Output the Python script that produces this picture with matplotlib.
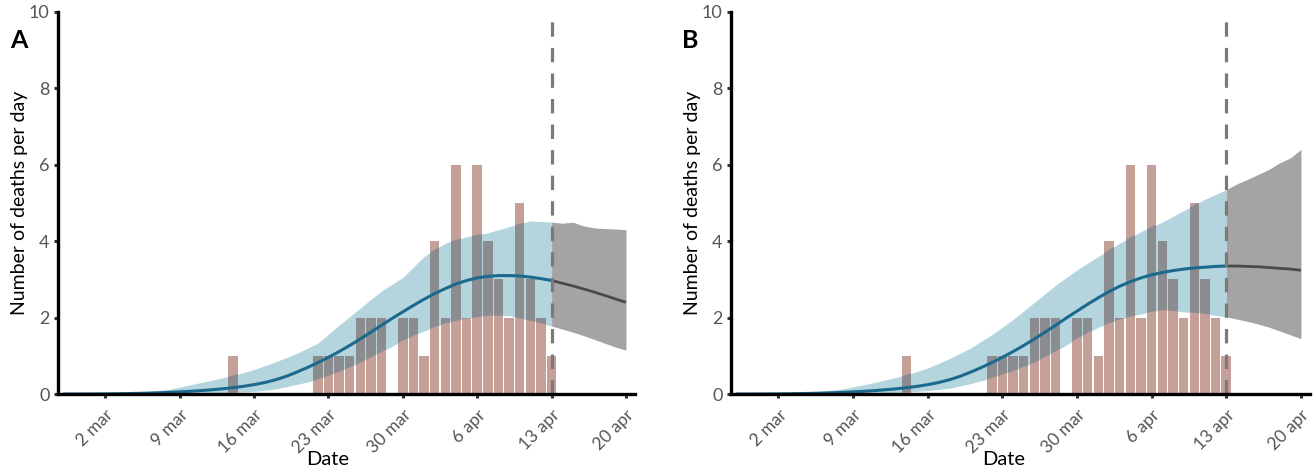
import numpy as np
import pandas as pd
import matplotlib
matplotlib.use("Agg")
import matplotlib.pyplot as plt

plt.rcParams['font.family'] = ['Lato', 'DejaVu Sans']

# ---------------- data ----------------
origin = pd.Timestamp("2020-03-02")

bar_dates = ["2020-03-14", "2020-03-22", "2020-03-23", "2020-03-24", "2020-03-25",
             "2020-03-26", "2020-03-27", "2020-03-28", "2020-03-30", "2020-03-31",
             "2020-04-01", "2020-04-02", "2020-04-03", "2020-04-04", "2020-04-05",
             "2020-04-06", "2020-04-07", "2020-04-08", "2020-04-09", "2020-04-10",
             "2020-04-11", "2020-04-12", "2020-04-13"]
bar_counts = [1, 1, 1, 1, 1, 2, 2, 2, 2, 2, 1, 4, 2, 6, 2, 6, 4, 3, 2, 5, 3, 2, 1]

# fitted mean curve, daily (days since 2 March)
line_days = list(range(-4, 43))
a_mean = [0, 0, 0.001, 0.002, 0.004, 0.007, 0.011, 0.016, 0.023, 0.032, 0.043, 0.056,
          0.071, 0.089, 0.11, 0.135, 0.165, 0.2, 0.245, 0.3, 0.37, 0.46, 0.57, 0.69,
          0.82, 0.96, 1.11, 1.27, 1.44, 1.62, 1.8, 1.98, 2.15, 2.32, 2.48, 2.63, 2.76,
          2.88, 2.97, 3.04, 3.08, 3.1, 3.1, 3.09, 3.06, 3.02, 2.97]
b_mean = [0, 0, 0.001, 0.002, 0.004, 0.007, 0.011, 0.016, 0.023, 0.032, 0.043, 0.056,
          0.071, 0.089, 0.11, 0.135, 0.165, 0.2, 0.245, 0.3, 0.37, 0.46, 0.57, 0.69,
          0.82, 0.96, 1.11, 1.27, 1.44, 1.62, 1.8, 1.99, 2.17, 2.35, 2.52, 2.68, 2.82,
          2.94, 3.04, 3.12, 3.18, 3.23, 3.27, 3.3, 3.32, 3.34, 3.35]

# credible band (days since 2 March)
band_days = [-4, 0, 3, 6, 9, 12, 14, 16, 18, 20, 22, 24, 26, 28, 30, 32, 34, 36, 38, 40, 42]
a_upper = [0, 0.01, 0.04, 0.12, 0.30, 0.48, 0.64, 0.84, 1.06, 1.33, 1.80, 2.25, 2.70,
           3.05, 3.60, 3.95, 4.12, 4.22, 4.38, 4.53, 4.50]
a_lower = [0, 0, 0, 0, 0.01, 0.04, 0.07, 0.13, 0.25, 0.38, 0.58, 0.82, 1.10,
           1.40, 1.65, 1.85, 1.98, 2.05, 2.05, 1.92, 1.78]
b_upper = [0, 0.01, 0.05, 0.13, 0.30, 0.50, 0.68, 0.92, 1.20, 1.55, 1.95, 2.40, 2.85,
           3.25, 3.60, 3.95, 4.25, 4.50, 4.80, 5.10, 5.35]
b_lower = [0, 0, 0, 0, 0.01, 0.05, 0.09, 0.15, 0.27, 0.42, 0.60, 0.82, 1.12,
           1.45, 1.75, 1.95, 2.10, 2.20, 2.15, 2.10, 2.02]

# forecast period
fc_days = [42, 43, 44, 45, 46, 47, 48, 49]
a_fc_mean = [2.97, 2.90, 2.83, 2.75, 2.67, 2.58, 2.49, 2.40]
a_fc_upper = [4.50, 4.47, 4.50, 4.40, 4.35, 4.33, 4.32, 4.30]
a_fc_lower = [1.78, 1.70, 1.62, 1.53, 1.43, 1.33, 1.23, 1.15]
b_fc_mean = [3.35, 3.35, 3.34, 3.33, 3.31, 3.29, 3.27, 3.24]
b_fc_upper = [5.35, 5.50, 5.62, 5.75, 5.88, 6.05, 6.18, 6.40]
b_fc_lower = [2.02, 1.96, 1.90, 1.83, 1.75, 1.65, 1.55, 1.45]

tick_days = [0, 7, 14, 21, 28, 35, 42, 49]
tick_labels = ["2 mar", "9 mar", "16 mar", "23 mar", "30 mar", "6 apr", "13 apr", "20 apr"]
cut_day = 42
panel_labels = ["A", "B"]

# ---------------- style ----------------
PINK = "#c4a099"
GREY_OVER = "#8a8c90"
BLUE_BAND = "#b4d4de"
BLUE_LINE = "#1b6a8e"
FC_BAND = "#a4a4a4"
FC_LINE = "#4a4a4a"

bar_x = [(pd.Timestamp(d) - origin).days for d in bar_dates]

fig = plt.figure(figsize=(13.15, 4.69), dpi=100)
axA = fig.add_axes([58 / 1315, 75 / 469, 577 / 1315, 382 / 469])
axB = fig.add_axes([731 / 1315, 75 / 469, 579 / 1315, 382 / 469])

panels = [
    (axA, a_mean, a_upper, a_lower, a_fc_mean, a_fc_upper, a_fc_lower, 0.468),
    (axB, b_mean, b_upper, b_lower, b_fc_mean, b_fc_upper, b_fc_lower, 0.47),
]

for (ax, m, up, lo, fm, fu, fl, lx), lab in zip(panels, panel_labels):
    band = ax.fill_between(band_days, lo, up, color=BLUE_BAND, lw=0, zorder=1)
    ax.bar(bar_x, bar_counts, width=0.9, color=PINK, edgecolor="none", zorder=2)
    over = ax.bar(bar_x, bar_counts, width=0.9, color=GREY_OVER, edgecolor="none", zorder=3)
    clip = band.get_paths()[0]
    for p in over:
        p.set_clip_path(clip, ax.transData)
    ax.fill_between(fc_days, fl, fu, color=FC_BAND, lw=0, zorder=3)
    ax.plot(line_days, m, color=BLUE_LINE, lw=2.2, zorder=4, solid_capstyle="butt")
    ax.plot(fc_days, fm, color=FC_LINE, lw=2.0, zorder=4, solid_capstyle="butt")
    ax.plot([cut_day, cut_day], [0, 10], color="#7a7a7a", lw=2.3,
            dashes=(4.5, 3.5), zorder=5)

    ax.set_xlim(-4.45, 49.85)
    ax.set_ylim(0, 10)
    ax.set_xticks(tick_days)
    ax.set_xticklabels(tick_labels, rotation=45, ha="right", va="top",
                       rotation_mode="anchor", color="#555555", fontsize=12.5)
    ax.set_yticks([0, 2, 4, 6, 8, 10])
    ax.set_yticklabels(["0", "2", "4", "6", "8", "10"], color="#555555", fontsize=13)
    for s in ["top", "right"]:
        ax.spines[s].set_visible(False)
    for s in ["left", "bottom"]:
        ax.spines[s].set_linewidth(2.4)
        ax.spines[s].set_color("black")
        ax.spines[s].set_zorder(6)
    ax.tick_params(axis="both", direction="out", length=3, width=2.2, color="#333333")
    ax.tick_params(axis="x", pad=6)
    ax.tick_params(axis="y", pad=3)
    ax.set_xlabel("Date", fontsize=14.5, va="top")
    ax.xaxis.set_label_coords(lx, -0.148)
    ax.set_ylabel("Number of deaths per day", fontsize=14, labelpad=1)

fig.text(10 / 1315, 1 - 52 / 469, "A", fontsize=18, fontweight="bold", ha="left", va="bottom")
fig.text(682 / 1315, 1 - 52 / 469, "B", fontsize=18, fontweight="bold", ha="left", va="bottom")

fig.savefig("out.png", dpi=100, facecolor="white")
